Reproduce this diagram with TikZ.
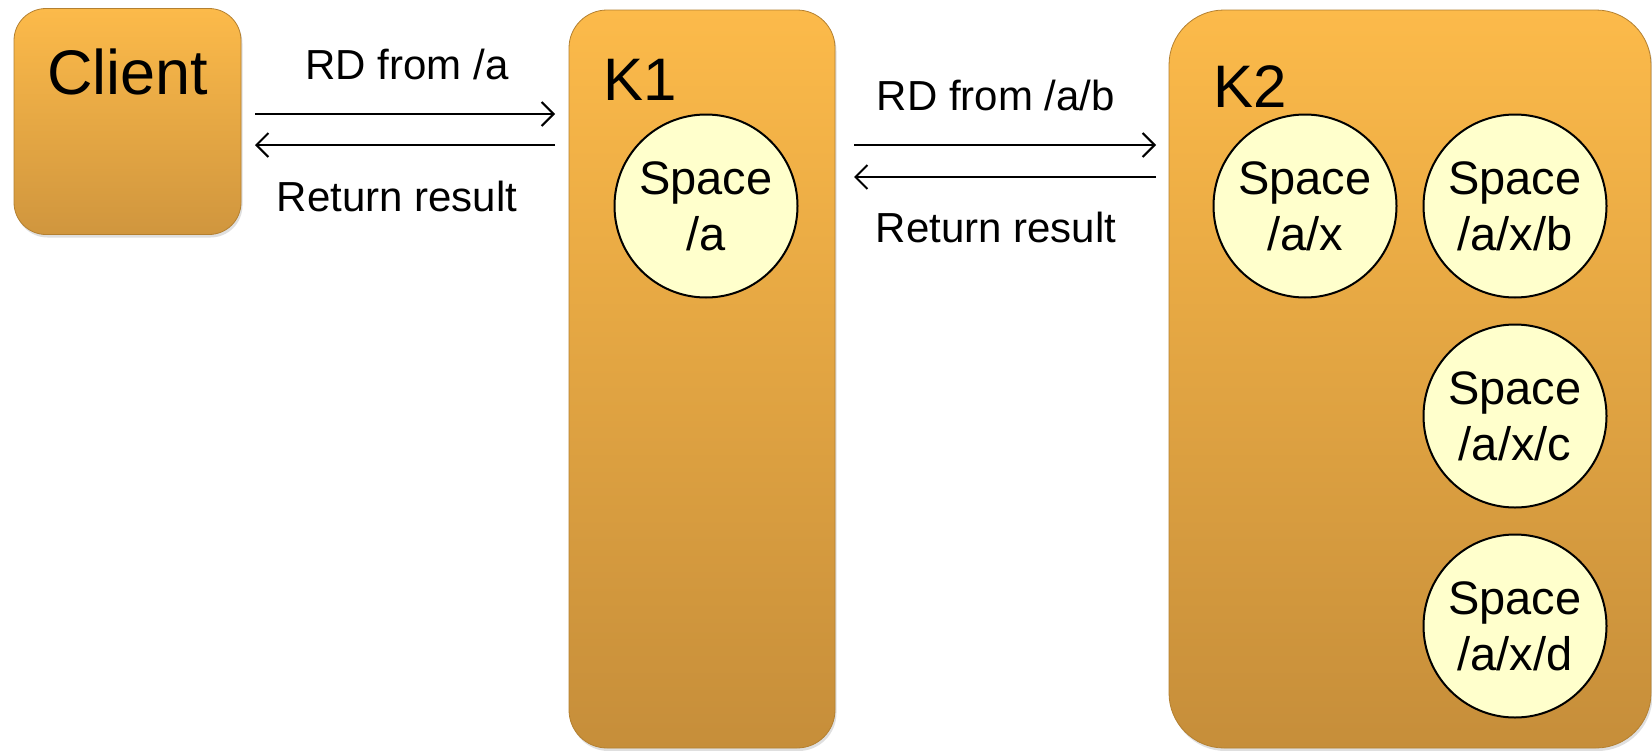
\documentclass[tikz,border=0pt]{standalone}
\usepackage{fontspec}
\setmainfont{Liberation Sans}
\usetikzlibrary{arrows.meta,shadows}
\definecolor{boxtop}{RGB}{252,186,74}
\definecolor{boxbot}{RGB}{198,142,58}
\definecolor{clientbot}{RGB}{208,150,62}
\definecolor{boxedge}{RGB}{180,128,48}
\definecolor{spacefill}{RGB}{255,255,204}
\begin{document}
\begin{tikzpicture}[x=1pt,y=-1pt,
  box/.style={rectangle, rounded corners=#1, inner sep=0pt,
    top color=boxtop, bottom color=boxbot, draw=boxedge, line width=0.8pt,
    drop shadow={opacity=0.25, shadow xshift=1.5pt, shadow yshift=-3pt}},
  boxlabel/.style={anchor=base west, inner sep=0pt, font=\fontsize{60}{70}\selectfont},
  msg/.style={anchor=base, inner sep=0pt, font=\fontsize{42}{50}\selectfont},
  space/.style={circle, minimum size=183pt, inner sep=0pt, fill=spacefill, draw=black,
    line width=2pt, align=center, font=\fontsize{47}{56}\selectfont},
  arr/.style={line width=2pt, -{Straight Barb[length=12pt,width=24pt,line width=2pt]}}
]
\fill[white] (0,0) rectangle (1652,750);
\useasboundingbox (0,0) rectangle (1652,750);

% boxes
\node[box=32pt, minimum width=227pt, minimum height=226pt, bottom color=clientbot] (client) at (127.5,121.5) {};
\node[box=38pt, minimum width=266pt, minimum height=738pt] (k1) at (702,379) {};
\node[box=55pt, minimum width=482pt, minimum height=738pt] (k2) at (1410,379) {};

% box titles
\node[anchor=base, inner sep=0pt, font=\fontsize{63}{72}\selectfont] (clientt) at (128,94) {Client};
\node[boxlabel] (k1t) at (603,100) {K1};
\node[boxlabel] (k2t) at (1213,107) {K2};

% spaces
\node[space] (sa)   at (706,206)  {Space\\/a};
\node[space] (sax)  at (1305,206) {Space\\/a/x};
\node[space] (saxb) at (1515,206) {Space\\/a/x/b};
\node[space] (saxc) at (1515,416) {Space\\/a/x/c};
\node[space] (saxd) at (1515,626) {Space\\/a/x/d};

% arrow end points
\coordinate (c1a) at (255,114);
\coordinate (c1b) at (555,114);
\coordinate (c2a) at (255,145);
\coordinate (c2b) at (555,145);
\coordinate (c3a) at (854,145);
\coordinate (c3b) at (1156,145);
\coordinate (c4a) at (854,177);
\coordinate (c4b) at (1156,177);

\draw[arr] (c1a) -- (c1b);
\draw[arr] (c2b) -- (c2a);
\draw[arr] (c3a) -- (c3b);
\draw[arr] (c4b) -- (c4a);

% messages
\node[msg] (m1) at (407,79)  {RD from /a};
\node[msg] (m2) at (397,211) {Return result};
\node[msg] (m3) at (996,110) {RD from /a/b};
\node[msg] (m4) at (996,242) {Return result};
\end{tikzpicture}
\end{document}
